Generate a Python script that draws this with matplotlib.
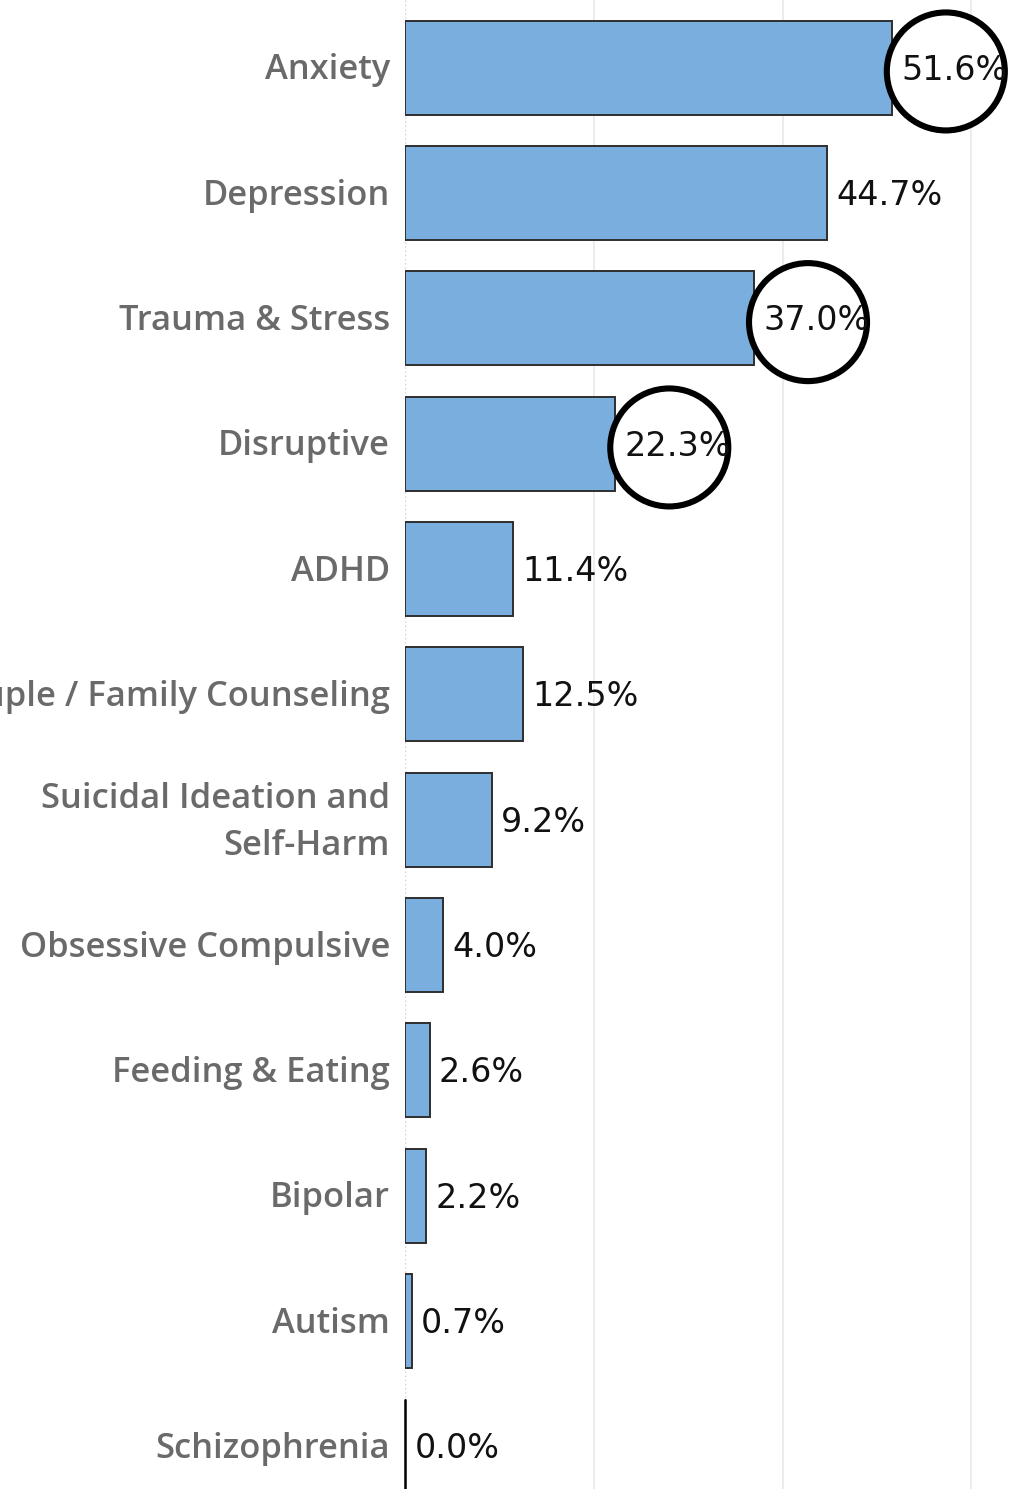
import numpy as np
import matplotlib.pyplot as plt
from matplotlib.patches import Ellipse

# Share of clients by presenting concern (%)
categories = ["Anxiety", "Depression", "Trauma & Stress", "Disruptive", "ADHD",
              "Couple / Family Counseling", "Suicidal Ideation and\nSelf-Harm",
              "Obsessive Compulsive", "Feeding & Eating", "Bipolar", "Autism",
              "Schizophrenia"]
values = [51.6, 44.7, 37.0, 22.3, 11.4, 12.5, 9.2, 4.0, 2.6, 2.2, 0.7, 0.0]
highlighted = ["Anxiety", "Trauma & Stress", "Disruptive"]
gridlines = [20, 40, 60]

W, H, DPI = 1010, 1489, 100
fig = plt.figure(figsize=(W / DPI, H / DPI), dpi=DPI)
ax_left = 405 / W
ax = fig.add_axes([ax_left, 0, 1 - ax_left, 1])

y = np.arange(len(categories))
xmax = 64.1
ax.set_xlim(0, xmax)
ax.set_ylim(11.34, -0.54)

for g in gridlines:
    ax.axvline(g, color="#ebebeb", lw=1.3, zorder=0)
ax.axvline(0, color="#d0d0d0", lw=1, ls=(0, (1, 2)), zorder=0)

ax.barh(y, values, height=0.75, color="#79aedf", edgecolor="#2e2e2e",
        linewidth=1.4, zorder=2)
# zero-length bars show as a dark line
for yi, v in zip(y, values):
    if v == 0:
        ax.plot([0, 0], [yi - 0.375, yi + 0.375], color="black", lw=1.8,
                zorder=2, solid_capstyle="butt", clip_on=False)

for yi, v in zip(y, values):
    ax.text(v + 1.0, yi + 0.02, f"{v:.1f}%", ha="left", va="center",
            fontsize=24, color="#111111", family="DejaVu Sans", zorder=4)

for yi, name in zip(y, categories):
    ax.text(-15 / ((W - 405) / xmax), yi + 0.02, name, ha="right", va="center",
            fontsize=24.8, color="#6a6a6a", family="Open Sans",
            weight="semibold", linespacing=1.5, clip_on=False)

# circles round the highlighted labels
px_x = (W - 405) / xmax
px_y = H / (11.34 + 0.54)
r = 59
for yi, name, v in zip(y, categories, values):
    if name in highlighted:
        ax.add_patch(Ellipse((v + 5.7, yi + 0.03), 2 * r / px_x, 2 * r / px_y,
                             facecolor="white", edgecolor="black", lw=4.4,
                             zorder=3))

for s in ax.spines.values():
    s.set_visible(False)
ax.set_xticks([])
ax.set_yticks([])

fig.savefig("out.png", dpi=DPI)
